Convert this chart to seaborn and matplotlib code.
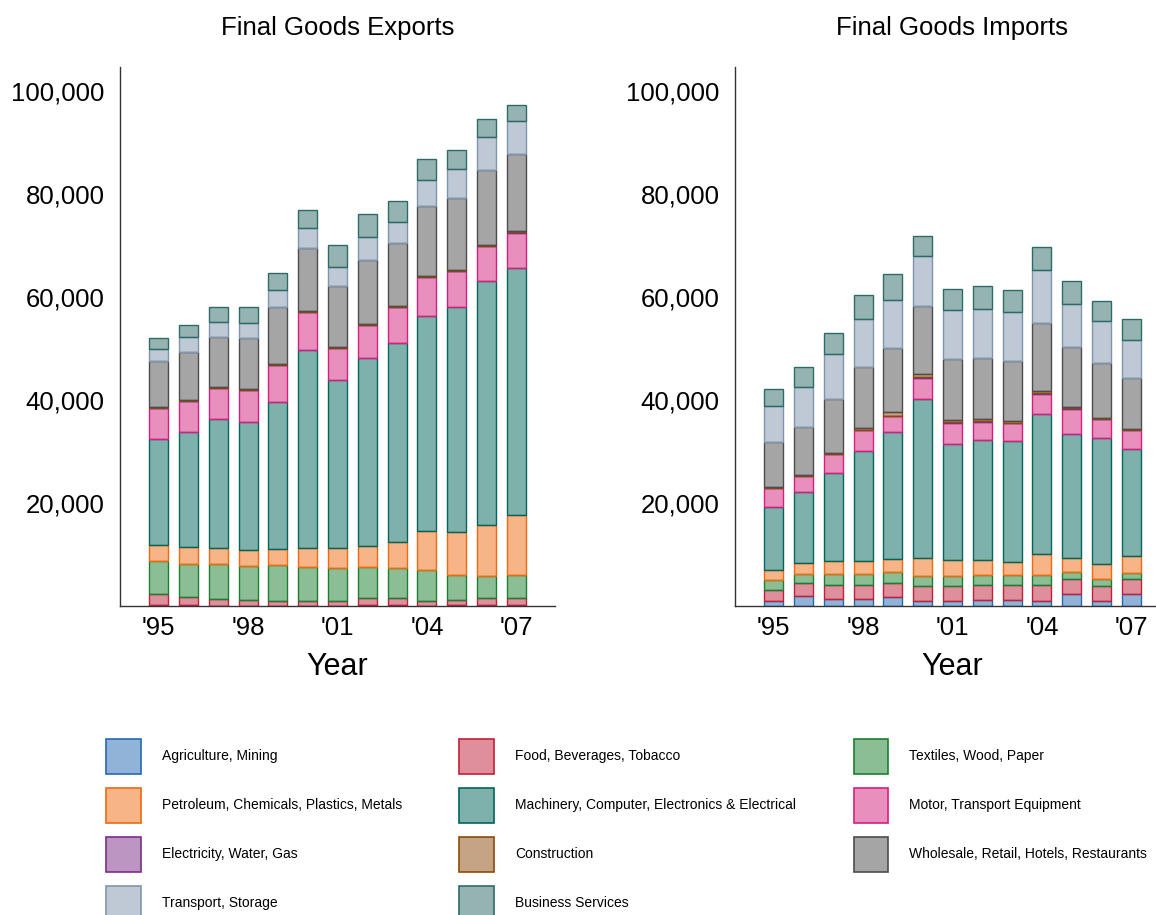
import numpy as np
import pandas as pd
import matplotlib
matplotlib.use("Agg")
import matplotlib.pyplot as plt
import matplotlib.colors as mcolors
from matplotlib.patches import Patch
import seaborn as sns

# ---------------- data ----------------
years = ["1995", "1996", "1997", "1998", "1999", "2000", "2001",
         "2002", "2003", "2004", "2005", "2006", "2007"]
tick_labels = ["'95", "'98", "'01", "'04", "'07"]

sectors = ["Agriculture, Mining", "Food, Beverages, Tobacco", "Textiles, Wood, Paper",
           "Petroleum, Chemicals, Plastics, Metals",
           "Machinery, Computer, Electronics & Electrical", "Motor, Transport Equipment",
           "Electricity, Water, Gas", "Construction",
           "Wholesale, Retail, Hotels, Restaurants", "Transport, Storage",
           "Business Services"]

edge_colors = ["#2569b1", "#c0203a", "#1b7f2f", "#ee6a10", "#01655b", "#d4207e",
               "#7b2d87", "#8b4b0b", "#4d4d4d", "#7f95ad", "#2d6b65"]

# Exports
agri_ex = [100, 100, 80, 80, 80, 80, 80, 100, 100, 80, 100, 200, 250]
food_ex = [2150, 1700, 1350, 1100, 820, 890, 950, 1520, 1450, 950, 1130, 1290, 1370]
tex_ex = [6470, 6400, 6730, 6660, 7060, 6600, 6275, 5950, 5760, 5890, 4720, 4400, 4460]
pet_ex = [3100, 3300, 3170, 2980, 3170, 3620, 4010, 4140, 5180, 7640, 8410, 9830, 11580]
mach_ex = [20700, 22210, 25030, 24900, 28500, 38520, 32570, 36500, 38670, 41840, 43740, 47490, 48040]
motor_ex = [5900, 6030, 5960, 6150, 7200, 7340, 6220, 6290, 6870, 7530, 6880, 6680, 6810]
elec_ex = [50, 50, 50, 50, 50, 50, 50, 50, 50, 50, 50, 50, 50]
cons_ex = [200, 200, 150, 200, 200, 200, 150, 200, 200, 200, 200, 200, 250]
whole_ex = [9000, 9440, 9800, 9900, 10950, 12330, 11780, 12520, 12260, 13570, 14030, 14620, 15080]
trans_ex = [2290, 2750, 2760, 2950, 3280, 3800, 3800, 4320, 4060, 4910, 5560, 6290, 6350]
bus_ex = [2160, 2360, 2940, 3150, 3470, 3470, 4200, 4590, 4070, 4130, 3740, 3470, 3080]

# Imports
agri_im = [970, 1940, 1290, 1290, 1750, 1035, 1035, 1230, 1230, 970, 2330, 1035, 2330]
food_im = [2130, 2460, 2850, 2850, 2710, 2850, 2915, 2850, 2910, 3170, 2910, 2915, 2980]
tex_im = [2010, 1880, 2070, 2070, 2140, 1940, 1870, 1940, 1880, 1880, 1360, 1360, 1160]
pet_im = [1810, 2000, 2520, 2460, 2520, 3430, 3110, 2840, 2590, 4010, 2650, 2910, 3170]
mach_im = [12400, 13790, 17080, 21530, 24740, 30970, 22510, 23300, 23350, 27170, 24160, 24460, 20950]
motor_im = [3600, 3140, 3670, 3930, 3010, 4130, 4190, 3600, 3540, 4000, 4910, 3600, 3540]
elec_im = [60, 60, 60, 80, 80, 100, 80, 80, 80, 100, 80, 60, 60]
cons_im = [200, 200, 200, 310, 700, 550, 440, 510, 380, 550, 310, 270, 200]
whole_im = [8650, 9240, 10550, 11860, 12380, 13360, 11790, 11920, 11590, 13030, 11660, 10680, 9830]
trans_im = [6940, 7790, 8650, 9430, 9430, 9630, 9560, 9500, 9500, 10410, 8380, 8060, 7530]
bus_im = [3410, 4000, 4000, 4650, 4980, 3930, 4130, 4450, 4320, 4390, 4390, 3800, 4000]

exports = [agri_ex, food_ex, tex_ex, pet_ex, mach_ex, motor_ex, elec_ex, cons_ex,
           whole_ex, trans_ex, bus_ex]
imports = [agri_im, food_im, tex_im, pet_im, mach_im, motor_im, elec_im, cons_im,
           whole_im, trans_im, bus_im]

# ---------------- style ----------------
sns.set_theme(style="white")
plt.rcParams["font.family"] = ["Liberation Sans", "DejaVu Sans"]
plt.rcParams["text.color"] = "black"
plt.rcParams["axes.labelcolor"] = "black"
plt.rcParams["xtick.color"] = "black"
plt.rcParams["ytick.color"] = "black"

W, H = 1156, 915
fig = plt.figure(figsize=(W / 100, H / 100), dpi=100)

def px_axes(x0, y0, x1, y1):
    return fig.add_axes([x0 / W, 1 - y1 / H, (x1 - x0) / W, (y1 - y0) / H])

ax_ex = px_axes(120, 67, 555, 606)
ax_im = px_axes(735, 67, 1170, 606)


def draw(ax, series, title):
    bottom = np.zeros(len(years))
    for name, vals, ec in zip(sectors, series, edge_colors):
        rgb = mcolors.to_rgb(ec)
        df = pd.DataFrame({"year": years, "value": vals})
        sns.barplot(data=df, x="year", y="value", order=years, ax=ax,
                    errorbar=None, saturation=1, width=0.64, color=ec,
                    bottom=bottom, facecolor=rgb + (0.5,), edgecolor=rgb + (1.0,),
                    linewidth=1.0)
        bottom = bottom + np.array(vals, dtype=float)
    ax.set_xlim(-1.3, 13.3)
    ax.set_ylim(0, 104700)
    ax.set_yticks([20000, 40000, 60000, 80000, 100000])
    ax.set_yticklabels([f"{v:,}" for v in [20000, 40000, 60000, 80000, 100000]],
                       fontsize=18.5)
    ax.set_xticks([0, 3, 6, 9, 12])
    ax.set_xticklabels(tick_labels, fontsize=18.5)
    ax.tick_params(axis="both", length=0)
    ax.tick_params(axis="y", pad=11)
    ax.tick_params(axis="x", pad=7)
    ax.set_xlabel("Year", fontsize=22, labelpad=9)
    ax.set_ylabel("")
    ax.set_title(title, fontsize=18.5, pad=23)
    for s in ["top", "right"]:
        ax.spines[s].set_visible(False)
    for s in ["left", "bottom"]:
        ax.spines[s].set_color("#333333")
        ax.spines[s].set_linewidth(1.0)


draw(ax_ex, exports, "Final Goods Exports")
draw(ax_im, imports, "Final Goods Imports")

# legend in row-major order (matplotlib fills column-major)
order = [0, 3, 6, 9, 1, 4, 7, 10, 2, 5, 8]
handles = [Patch(facecolor=mcolors.to_rgb(edge_colors[i]) + (0.5,),
                 edgecolor=edge_colors[i], linewidth=1.2) for i in order]
labels = [sectors[i] for i in order]
fig.legend(handles, labels, loc="upper left", bbox_to_anchor=(106 / W, 1 - 739 / H),
           ncol=3, frameon=False, fontsize=10, handlelength=2.5, handleheight=3.5,
           handletextpad=1.5, columnspacing=4.15, labelspacing=1.0,
           borderpad=0, borderaxespad=0)

fig.savefig("out.png", dpi=100)
